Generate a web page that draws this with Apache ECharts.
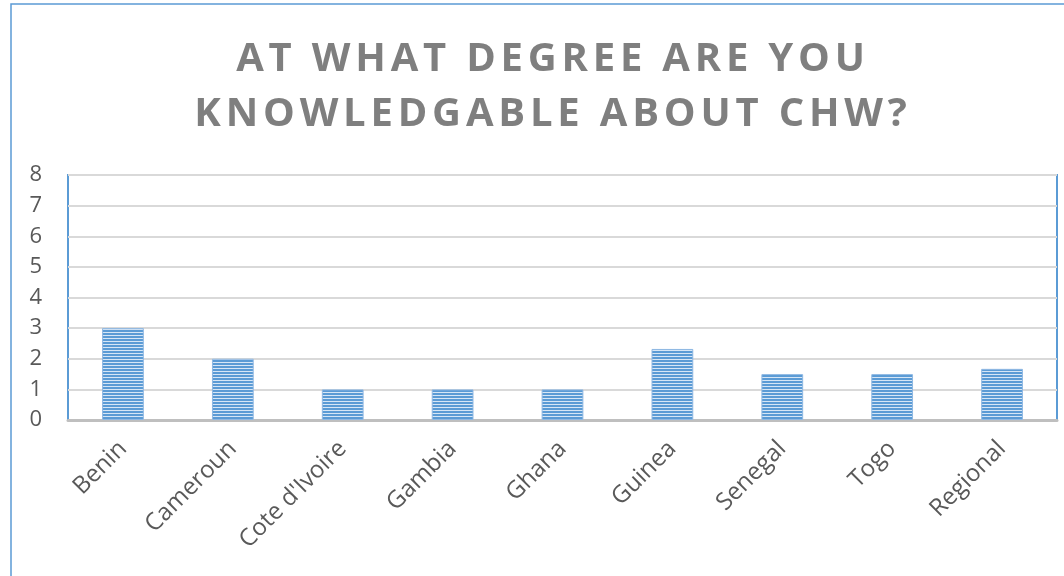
<!DOCTYPE html>
<html>
<head>
<meta charset="utf-8">
<script src="https://cdn.jsdelivr.net/npm/echarts@6/dist/echarts.min.js"></script>
<style>
  html, body { margin: 0; padding: 0; background: #fff; }
  #chart { width: 1064px; height: 576px; }
</style>
</head>
<body>
<div id="chart"></div>
<script>
const titleLines = ['AT WHAT DEGREE ARE YOU', 'KNOWLEDGABLE ABOUT CHW?'];
const countries = ['Benin', 'Cameroun', "Cote d'Ivoire", 'Gambia', 'Ghana', 'Guinea', 'Senegal', 'Togo', 'Regional'];
const scores = [3, 2, 1, 1, 1, 2.32, 1.5, 1.5, 1.67];
const yTicks = { min: 0, max: 8, interval: 1 };

// the title in the original is letter-spaced; canvas can do that, echarts can't,
// so switch letterSpacing on only for the title font
const TITLE_FONT_SIZE = 40;
const TITLE_SPACING = '4.8px';
const proto = CanvasRenderingContext2D.prototype;
const origFill = proto.fillText;
const origMeasure = proto.measureText;
function spacing(ctx) {
  ctx.letterSpacing = ctx.font.indexOf(TITLE_FONT_SIZE + 'px') >= 0 ? TITLE_SPACING : '0px';
}
proto.fillText = function (t, x, y, m) {
  spacing(this);
  return m === undefined ? origFill.call(this, t, x, y) : origFill.call(this, t, x, y, m);
};
proto.measureText = function (t) {
  spacing(this);
  return origMeasure.call(this, t);
};

// striped fill like the original (horizontal lines)
function stripes() {
  const c = document.createElement('canvas');
  c.width = 4; c.height = 3;
  const ctx = c.getContext('2d');
  ctx.fillStyle = '#d6e6f6';
  ctx.fillRect(0, 0, 4, 3);
  ctx.fillStyle = '#5b9bd5';
  ctx.fillRect(0, 0, 4, 2);
  return c;
}

const chart = echarts.init(document.getElementById('chart'), null, { renderer: 'canvas' });
const font = '"Open Sans", sans-serif';

chart.setOption({
  backgroundColor: '#fff',
  animation: false,
  title: {
    text: titleLines.join('\n'),
    left: 548,
    textAlign: 'center',
    top: 27,
    textStyle: {
      fontFamily: font,
      fontWeight: 'bold',
      fontSize: TITLE_FONT_SIZE,
      lineHeight: 55,
      color: '#7f7f7f'
    }
  },
  graphic: [{
    type: 'rect',
    shape: { x: 11, y: 4, width: 1200, height: 700 },
    style: { fill: 'none', stroke: '#5b9bd5', lineWidth: 1.5 },
    silent: true
  }],
  grid: {
    left: 68, right: 7, top: 175, bottom: 156,
    show: true, borderColor: '#5b9bd5', borderWidth: 2,
    containLabel: false
  },
  xAxis: {
    type: 'category',
    data: countries,
    axisLine: { lineStyle: { color: '#bfbfbf', width: 3 } },
    axisTick: { show: false },
    axisLabel: {
      rotate: 45, margin: 25,
      fontFamily: font, fontSize: 24, color: '#595959', interval: 0
    }
  },
  yAxis: {
    type: 'value',
    min: yTicks.min, max: yTicks.max, interval: yTicks.interval,
    axisLine: { show: false },
    axisTick: { show: false },
    splitLine: { lineStyle: { color: '#d9d9d9', width: 2 } },
    axisLabel: { margin: 26, fontFamily: font, fontSize: 22, color: '#595959' }
  },
  series: [{
    type: 'bar',
    data: scores,
    barWidth: '38%',
    itemStyle: {
      color: { image: stripes(), repeat: 'repeat' },
      borderColor: '#8fb8e3',
      borderWidth: 1
    }
  }]
});
</script>
</body>
</html>
